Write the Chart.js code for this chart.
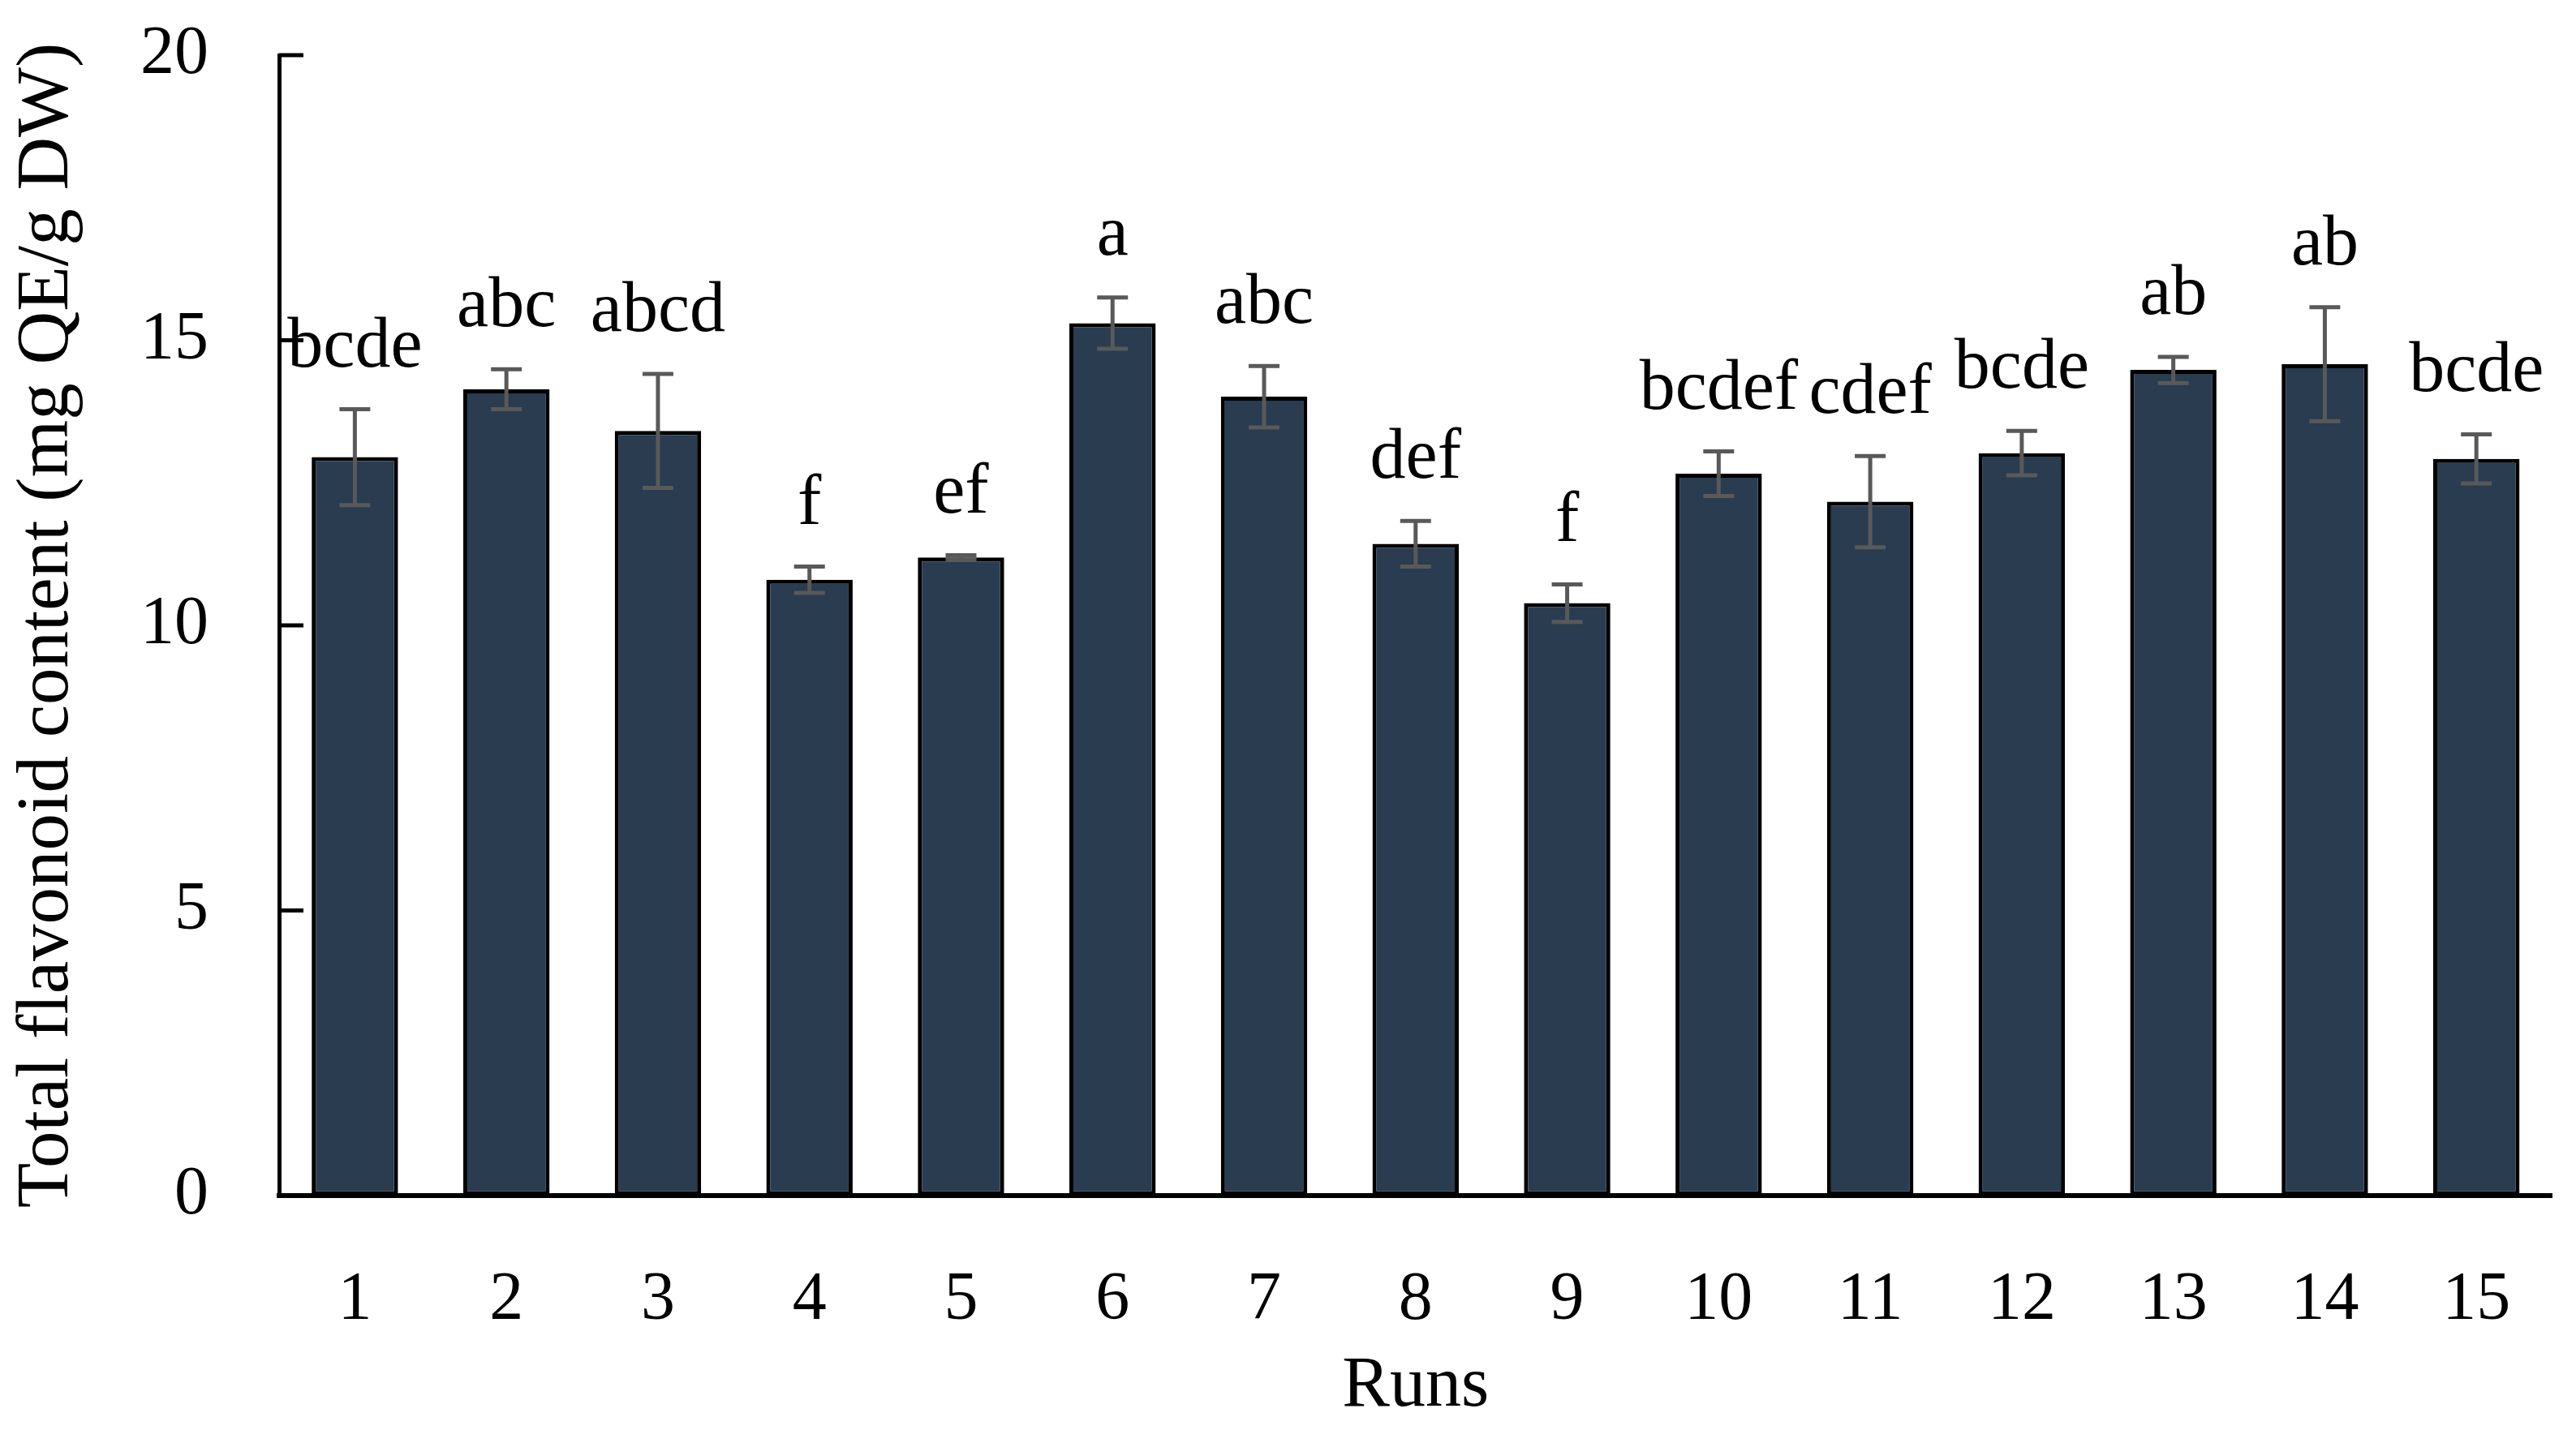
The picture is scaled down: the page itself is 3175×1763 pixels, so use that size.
<!DOCTYPE html>
<html>
<head>
<meta charset="utf-8">
<script src="https://cdn.jsdelivr.net/npm/chart.js@4.4.0/dist/chart.umd.min.js"></script>
<style>
    body { margin: 0; background: #ffffff; }
    #wrap { width: 3175px; height: 1763px; }
</style>
</head>
<body>
<div id="wrap"><canvas id="chart_render"></canvas></div>
<script>
//// chart data

let runs = ['1', '2', '3', '4', '5', '6', '7', '8', '9', '10', '11', '12', '13', '14', '15'];
let tfcMean = [12.95, 14.14, 13.41, 10.80, 11.19, 15.30, 14.01, 11.43, 10.39, 12.66, 12.17, 13.02, 14.48, 14.58, 12.92];
let tfcError = [0.84, 0.35, 1.00, 0.23, 0.04, 0.45, 0.54, 0.40, 0.33, 0.39, 0.80, 0.39, 0.23, 1.00, 0.43];
let groupLetters = ['bcde', 'abc', 'abcd', 'f', 'ef', 'a', 'abc', 'def', 'f', 'bcdef', 'cdef', 'bcde', 'ab', 'ab', 'bcde'];
let yTicks = [0, 5, 10, 15, 20];

let serif = '"Liberation Serif", "Times New Roman", serif';
let tickPx = 84;
let textPx = 88;

Chart.defaults.font.family = serif;
Chart.defaults.color = '#000000';

//// error bars, letters and the inside ticks of the y axis

let errorBarPlugin = {
    id: 'errorBars',
    afterDatasetsDraw: function(chart) {
        let ctx = chart.ctx;
        let yScale = chart.scales.y;
        let bars = chart.getDatasetMeta(0).data;
        ctx.save();
        ctx.strokeStyle = '#595959';
        ctx.lineWidth = 5;
        for (let i = 0; i < bars.length; i++) {
            let x = bars[i].x;
            let top = yScale.getPixelForValue(tfcMean[i] + tfcError[i]);
            let bottom = yScale.getPixelForValue(tfcMean[i] - tfcError[i]);
            ctx.beginPath();
            ctx.moveTo(x, top);
            ctx.lineTo(x, bottom);
            ctx.moveTo(x - 19, top);
            ctx.lineTo(x + 19, top);
            ctx.moveTo(x - 19, bottom);
            ctx.lineTo(x + 19, bottom);
            ctx.stroke();

            ctx.fillStyle = '#000000';
            ctx.font = textPx + 'px ' + serif;
            ctx.textAlign = 'center';
            ctx.textBaseline = 'alphabetic';
            ctx.fillText(groupLetters[i], x, top - 53);
        }
        ctx.restore();
    },
    afterDraw: function(chart) {
        let ctx = chart.ctx;
        let yScale = chart.scales.y;
        let left = chart.chartArea.left;
        ctx.save();
        ctx.strokeStyle = '#000000';
        ctx.lineWidth = 5;
        yTicks.forEach(function(v) {
            let py = yScale.getPixelForValue(v);
            ctx.beginPath();
            ctx.moveTo(left, py);
            ctx.lineTo(left + 30, py);
            ctx.stroke();
        });
        ctx.restore();
    }
};

let ctx = document.getElementById('chart_render').getContext('2d');
new Chart(ctx, {
    type: 'bar',
    data: {
        labels: runs,
        datasets: [{
            label: 'Total flavonoid content',
            data: tfcMean,
            backgroundColor: '#293c50',
            borderColor: '#000000',
            borderWidth: 5,
            borderSkipped: false,
            categoryPercentage: 1,
            barPercentage: 0.57
        }]
    },
    options: {
        responsive: true,
        maintainAspectRatio: false,
        animation: false,
        layout: { padding: { top: 68, right: 24, left: 0, bottom: 0 } },
        plugins: {
            legend: { display: false },
            tooltip: { enabled: false }
        },
        scales: {
            x: {
                grid: { display: false, drawTicks: false },
                border: { color: '#000000', width: 6 },
                ticks: { font: { size: tickPx }, padding: 80, maxRotation: 0 },
                title: {
                    display: true,
                    text: 'Runs',
                    font: { size: textPx },
                    padding: { top: -10, bottom: 0 }
                },
                afterFit: function(scale) { scale.height = 289; }
            },
            y: {
                min: 0,
                max: 20,
                grid: {
                    display: true,
                    drawOnChartArea: false,
                    drawTicks: true,
                    tickLength: 80,
                    tickColor: 'rgba(0,0,0,0)'
                },
                border: { color: '#000000', width: 5 },
                ticks: { font: { size: tickPx }, padding: 7 },
                afterBuildTicks: function(scale) {
                    scale.ticks = yTicks.map(function(v) { return { value: v }; });
                },
                title: {
                    display: true,
                    text: 'Total flavonoid content (mg QE/g DW)',
                    font: { size: 91 },
                    padding: { top: 4, bottom: 0 }
                },
                afterFit: function(scale) { scale.width = 344; }
            }
        }
    },
    plugins: [errorBarPlugin]
});
</script>
</body>
</html>
